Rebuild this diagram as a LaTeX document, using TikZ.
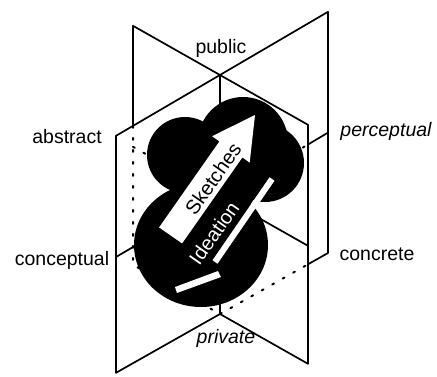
\documentclass[tikz,border=0pt]{standalone}
\usepackage{fontspec}
\setmainfont{Liberation Sans}
\begin{document}
\begin{tikzpicture}[x=1pt,y=-1pt,
  edge/.style={line width=1.7pt, line cap=round, line join=round},
  hidden/.style={line width=2pt, dash pattern=on 2pt off 10pt, line cap=round},
  lab/.style={font=\fontsize{19.5}{21}\selectfont, inner sep=0pt, anchor=base},
  inlab/.style={font=\fontsize{20}{22}\selectfont, inner sep=0pt, anchor=center},
]
\useasboundingbox (0,0) rectangle (437,376);

% axis of the two vertical planes
\coordinate (P) at (220,75);
\coordinate (Q) at (220,314);
\coordinate (H) at (220,196);
% plane A (back-left to front-right)
\coordinate (A1) at (133,25.8);
\coordinate (A2) at (308,124.8);
\coordinate (A3) at (308,363.8);
\coordinate (A4) at (133,264.8);
\coordinate (Ax) at (133,125.9);
% plane B (front-left to back-right)
\coordinate (B1) at (116,135.8);
\coordinate (B2) at (328,11.8);
\coordinate (B3) at (328,253);
\coordinate (B4) at (116,372.8);
\coordinate (Bx) at (308,264.3);
% mid lines
\coordinate (L1a) at (116,257);
\coordinate (L1b) at (308,144.5);
\coordinate (L1c) at (328,132.6);
\coordinate (L2a) at (133,146.8);
\coordinate (L2b) at (308,245.8);

% visible edges
\draw[edge] (Ax) -- (A1) -- (A2) -- (A3) -- (Q);
\draw[edge] (Bx) -- (B3) -- (B2) -- (B1) -- (B4) -- (Q);
\draw[edge] (P) -- (Q);
\draw[edge] (L1a) -- (H);
\draw[edge] (L1b) -- (L1c);
\draw[edge] (H) -- (L2b);
% hidden edges
\draw[hidden] (Ax) -- (A4) -- (Q);
\draw[hidden] (Q) -- (Bx);
\draw[hidden] (H) -- (L1b);
\draw[hidden] (L2a) -- (H);

% black blob: union of lobes
\fill[black] (185,155) circle[radius=38];
\fill[black] (243,142) circle[radius=45];
\fill[black] (265,163) circle[radius=39];
\fill[black] (225,185) circle[radius=32];
\fill[black] (201,245) ellipse[x radius=67, y radius=62];

% white arrow
\fill[white] (255,115) -- (249.7,162.6) -- (242.4,157.4) -- (182.1,243.4)
  -- (159.1,227.4) -- (219.4,141.4) -- (212.1,136.2) -- cycle;
% white stripes
\fill[white] (212.5,260.3) -- (217.5,263.7) -- (274.5,180.7) -- (269.5,177.3) -- cycle;
\fill[white] (175,287) -- (218,271) -- (221,277) -- (177,293) -- cycle;

\node[inlab, rotate=55] (sk) at (213,179) {Sketches};
\node[inlab, rotate=55, text=white] (id) at (214,233) {Ideation};

\node[lab] (pub) at (221,53) {public};
\node[lab] (abs) at (67,143) {abstract};
\node[lab, font=\fontsize{19.5}{21}\selectfont\itshape] (per) at (386,136) {perceptual};
\node[lab] (con) at (62,265) {conceptual};
\node[lab] (cre) at (377,260) {concrete};
\node[lab, font=\fontsize{19.5}{21}\selectfont\itshape] (pri) at (226,343) {private};
\end{tikzpicture}
\end{document}
